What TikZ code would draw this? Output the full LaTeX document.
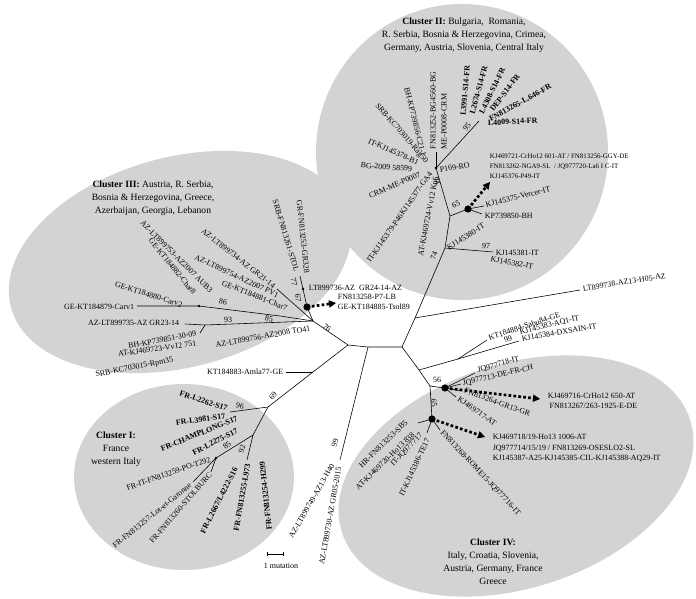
\documentclass[tikz,border=0pt]{standalone}
\usepackage{fontspec}
\setmainfont{Liberation Serif}
\usetikzlibrary{arrows.meta}
\definecolor{clgray}{HTML}{D3D3D3}
\begin{document}
\begin{tikzpicture}[x=0.03cm, y=-0.03cm, line width=0.5pt,
      lf/.style={font=\fontsize{6.8}{8.8}\selectfont, inner sep=0.5pt},
      bf/.style={font=\fontsize{6.8}{8.8}\selectfont\bfseries, inner sep=0.5pt},
      bs/.style={font=\fontsize{6.8}{8.8}\selectfont, inner sep=0pt},
      ttl/.style={font=\fontsize{8.2}{11}\selectfont, align=center},
      da/.style={line width=2.3pt, dash pattern=on 2.3pt off 1.9pt, -{Triangle[length=6pt,width=6.5pt,line width=0pt]}}]
      \useasboundingbox (0,0) rectangle (696,599);
      \fill[clgray] (462,152) ellipse [x radius=146, y radius=148];
      \fill[clgray, rotate around={15:(180,262)}] (180,262) ellipse [x radius=175, y radius=105];
      \fill[clgray] (184,477) ellipse [x radius=110, y radius=93];
      \fill[clgray, rotate around={18:(516,476)}] (516,476) ellipse [x radius=183, y radius=112];

      \node[ttl] (ttl2) at (464,35) {\textbf{Cluster II:}\ Bulgaria,\ \ Romania,\\R. Serbia, Bosnia \& Herzegovina, Crimea,\\Germany, Austria, Slovenia, Central Italy};
      \node[ttl] (ttl3) at (153,198) {\textbf{Cluster III:} Austria, R. Serbia,\\Bosnia \& Herzegovina, Greece,\\Azerbaijan, Georgia, Lebanon};
      \node[ttl] (ttl1) at (116,449) {\textbf{Cluster I:}\\France\\western Italy};
      \node[ttl] (ttl4) at (493,562) {\textbf{Cluster IV:}\\Italy, Croatia, Slovenia,\\Austria, Germany, France\\Greece};

      \foreach \n/\x/\y in {A/348/345, C/368/347, B/402/347, D/313/372, T/268/407, U/230/412, V/253/435,
          W/216/458, X/247/460, Y/340/460, K/313/321, L/307/307, M/303/289, N/300/276, P/199/306, Q/280/316,
          R/205/325, S/200/333, Z/415/318, I/445/248, G/450/216, F/436/168, E/479/121, H/468/209, J/493/252,
          AA/419/370, AB/458/359, AD/519/341, AC/430/386, AE/445/388, AF/432/419}
        \coordinate (\n) at (\x,\y);
      \foreach \n/\x/\y in {F1/436/152, H1/484/206, H2/482/214, H3/490/182, Z1/580/290, AB1/487/340,
          AE1/475/373, AE2/461/384, AE4/462/391, AE5/456/397, AE3/540/399, AF1/485/437, AF2/440/430,
          AF3/418/423, AF4/427/433, D1/286/372, W1/193/482, W2/211/472, L1/336/303, K1/277/289,
          P1/137/306, R1/185/324, SB1/267/554, SB2/284/554}
        \coordinate (\n) at (\x,\y);

      \draw (N) -- (M) -- (L) -- (K) -- (A) -- (C) -- (B) -- (Z) -- (I) -- (G) -- (F) -- (E);
      \draw (A) -- (D) -- (T) -- (U);
      \draw (T) -- (V) -- (W) -- (W1);
      \draw (W) -- (W2);
      \draw (V) -- (X);
      \draw (D) -- (D1);
      \draw (C) -- (Y);
      \draw (K) -- (K1);
      \draw (P1) -- (P) -- (Q) -- (K);
      \draw (R1) -- (R) -- (K);
      \draw (S) -- (R);
      \draw (F) -- (F1);
      \draw (G) -- (H) -- (H1);
      \draw (H) -- (H2);
      \draw (I) -- (J);
      \draw (Z) -- (Z1);
      \draw (B) -- (AA) -- (AC) -- (AE) -- (AE1);
      \draw (AA) -- (AB) -- (AB1);
      \draw (AB) -- (AD);
      \draw (AE) -- (AE2);
      \draw (AE) -- (AE4);
      \draw (AE) -- (AE5);
      \draw (AC) -- (AF) -- (AF2);
      \draw (AF) -- (AF3);
      \draw (AF) -- (AF4);
      \foreach \n in {L, H, AE, AF} \fill (\n) circle [radius=3.6];
      \foreach \n in {P, M, F, W} \fill (\n) circle [radius=1.3];
      \draw[da] (L) -- (L1);
      \draw[da] (H) -- (H3);
      \draw[da] (AE) -- (AE3);
      \draw[da] (AF) -- (AF1);
      \draw[{Bar[width=4pt]}-{Bar[width=4pt]}] (SB1) -- (SB2);
      \node[lf] (sbl) at (281,566) {1 mutation};

      \foreach \x/\y/\r/\t [count=\i] in {463/116/85/L3991-S14-FR, 472/115/75/L2674-S14-FR, 481/114/64/L4308-S14-FR,
          491/111/53/DEP-S14-FR, 489/120/29/FN813265-L.646-FR, 487/123/3/L4009-S14-FR}
        \node[bf, anchor=west, rotate=\r] (c2b\i) at (\x,\y) {\t};
      \foreach \x/\y/\r/\t [count=\i] in {424/157/-76/BH-KP739856-C21-1, 427/163/-49/SRB-KC703019-Rag50,
          419/163/-24/IT-KJ145378-B1, 413/169/-4/BG-2009 58599, 421/174/23/CRM-ME-P0007,
          431/172/55/IT-KJ145379-P46KJ145377-GA4, 436/176/79/AT-KJ469724-Vv12 Kn6}
        \node[lf, anchor=east, rotate=\r] (c2e\i) at (\x,\y) {\t};
      \foreach \x/\y/\r/\t [count=\i] in {433/150/90/FN813252-BG4560-BG, 444/150/90/ME-P0008-CRM, 439/170/10/P169-RO,
          485/205/14/KJ145375-Vercer-IT, 484/216/0/KP739850-BH, 447/249/33/KJ145380-IT, 495/253/0/KJ145381-IT,
          490/259/-10/KJ145382-IT, 582/289/9/LT899738-AZ13-H05-AZ, 488/338/18/KT184884-Sabu84-GE,
          519/333/14/KJ145383-AQ1-IT, 521/339/10/KJ145384-DXSAIN-IT}
        \node[lf, anchor=west, rotate=\r] (c2w\i) at (\x,\y) {\t};
      \node[lf, font=\fontsize{5.9}{8.5}\selectfont, anchor=west, align=left] (blkH) at (489,166) {KJ469721-CrHo12 601-AT / FN813256-GGY-DE\\FN813262-NGA9-SL~~/ JQ977720-La6 I C-IT\\KJ145376-P49-IT};

      \foreach \x/\y/\r/\t [count=\i] in {477/371/16/JQ977718-IT, 462/384/13/JQ977713-DE-FR-CH,
          464/390/-20/FN813264-GR13-GR, 458/398/-35/KJ469717-AT, 441/431/-47/FN813268-ROME15-JQ977716-IT}
        \node[lf, anchor=west, rotate=\r] (c4w\i) at (\x,\y) {\t};
      \foreach \x/\y/\r/\t [count=\i] in {428/438/65/IT-KJ145386-TE17, 422/434/46/IT-JQ977717,
          414/433/44/AT-KJ469720-Ho13 838, 407/421/44/HR-FN813253-SB5,
          333/464/60/AZ-LT899749-AZ13-H40, 339/466/80/AZ-LT899730-AZ GR05-2015}
        \node[lf, anchor=east, rotate=\r] (c4e\i) at (\x,\y) {\t};
      \node[lf, anchor=west, align=left] (blkAE) at (547,401) {KJ469716-CrHo12 650-AT\\\hspace{1.5pt}FN813267/263-1925-E-DE};
      \node[lf, anchor=west, align=left] (blkAF) at (492,448) {KJ469718/19-Ho13 1006-AT\\JQ977714/15/19 / FN813269-OSESLO2-SL\\KJ145387-A25-KJ145385-CIL-KJ145388-AQ29-IT};

      \foreach \x/\y/\r/\t [count=\i] in {228/409/-18/FR-L2262-S17, 226/416/8/FR-L3981-S17, 238/418/22/FR-CHAMPLONG-S17,
          238/430/27/FR-L2275-S17, 236/467/63/{FR-L2667/L4222-S16}, 248/463/80/FR-FN813255-L973, 262/461/96/FR-FN813254-H299}
        \node[bf, anchor=east, rotate=\r] (c1b\i) at (\x,\y) {\t};
      \foreach \x/\y/\r/\t [count=\i] in {211/459/19/FR-IT-FN813259-PO-T292, 191/484/39/FR-FN813257-Lot-et-Garonne,
          211/473/49/FR-FN813260-STOLBURC, 284/372/0/KT184883-Amla77-GE}
        \node[lf, anchor=east, rotate=\r] (c1e\i) at (\x,\y) {\t};

      \foreach \x/\y/\r/\t [count=\i] in {297/272/-73/SRB-FN813261-STOL, 307/274/-84/GR-FN813253-GR328,
          275/287/-38/AZ-LT899734-AZ GR21-14, 279/296/-25/AZ-LT899754-AZ2007 PV1, 288/309/-22/GE-KT184881-Char7,
          135/307/0/GE-KT184879-Carv1, 183/305/-17/GE-KT184880-Carv2, 195/294/-51/GE-KT184882-Char8,
          212/292/-45/AZ-LT899753-AZ2007 AUB3, 180/323/0/AZ-LT899735-AZ GR23-14, 197/333/11/BH-KP739851-30-09,
          197/343/8/AT-KJ469723-Vv12 751, 174/360/11/SRB-KC703015-Rpm35, 311/328/10/AZ-LT899756-AZ2008 TO41}
        \node[lf, anchor=east, rotate=\r] (c3e\i) at (\x,\y) {\t};
      \node[lf, anchor=west] (c3w1) at (308,288) {LT899736-AZ~~GR24-14-AZ};
      \node[lf, anchor=west, align=left] (blkL) at (337,302) {FN813258-P7-LB\\GE-KT184885-Tsol89};

      \foreach \x/\y/\r/\t [count=\i] in {467/127/50/95, 437/181/-70/74, 456/204/25/65, 434/256/70/74, 486/246/-5/97,
          327/328/-40/76, 298/298/-80/67, 294/282/-80/77, 223/302/-10/86, 269/319/-10/85, 228/320/0/93,
          273/396/55/69, 240/406/-15/96, 227/445/40/85, 242/449/75/92, 335/443/75/99, 508/339/15/99,
          437/380/0/56, 434/403/-80/65}
        \node[bs, rotate=\r] (bs\i) at (\x,\y) {\t};
    \end{tikzpicture}
\end{document}
